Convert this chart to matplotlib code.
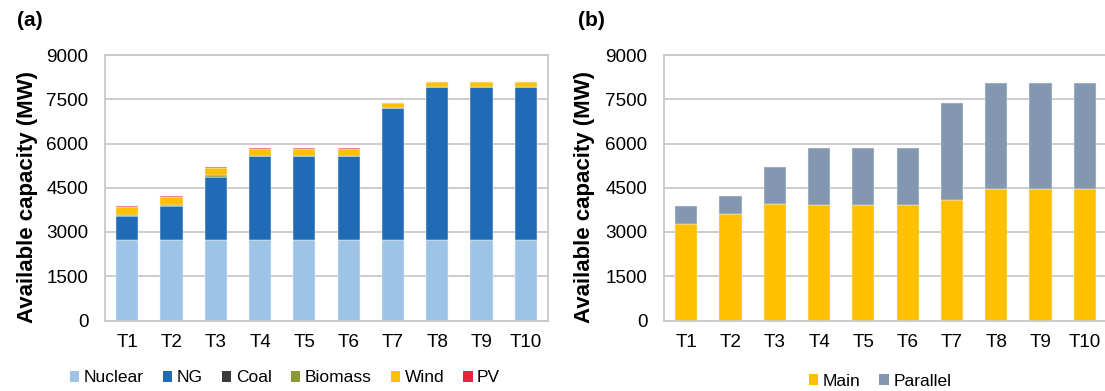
import matplotlib
matplotlib.use("Agg")
import matplotlib.pyplot as plt
from matplotlib.patches import Patch
import numpy as np

plt.rcParams['font.family'] = ['Liberation Sans', 'DejaVu Sans']

categories = ['T1', 'T2', 'T3', 'T4', 'T5', 'T6', 'T7', 'T8', 'T9', 'T10']

# Panel (a): available capacity by source (MW)
nuclear = [2730, 2730, 2730, 2730, 2730, 2730, 2730, 2730, 2730, 2730]
ng      = [800, 1150, 2120, 2830, 2830, 2830, 4480, 5190, 5190, 5190]
coal    = [0, 0, 0, 0, 0, 0, 0, 0, 0, 0]
biomass = [55, 50, 70, 0, 0, 0, 0, 0, 0, 0]
wind    = [250, 250, 250, 255, 255, 255, 160, 160, 160, 160]
pv      = [45, 45, 45, 40, 40, 40, 0, 0, 0, 0]

# Panel (b): main vs parallel (MW)
main_cap     = [3270, 3620, 3957, 3900, 3900, 3900, 4100, 4450, 4450, 4450]
parallel_cap = [606, 607, 1257, 1955, 1955, 1955, 3260, 3605, 3605, 3605]

yticks = [0, 1500, 3000, 4500, 6000, 7500, 9000]

colors_a = {'Nuclear': '#9DC3E6', 'NG': '#1F6BB5', 'Coal': '#3A3A3A',
            'Biomass': '#8A9A36', 'Wind': '#FFC000', 'PV': '#E8233B'}
colors_b = {'Main': '#FFC000', 'Parallel': '#8497B0'}

W, H = 1105, 391
fig = plt.figure(figsize=(W / 100, H / 100), dpi=100)

ax_a = fig.add_axes([105 / W, 1 - 320.5 / H, 443 / W, 265.5 / H])
ax_b = fig.add_axes([664 / W, 1 - 320.5 / H, 443 / W, 265.5 / H])

x = np.arange(len(categories))
bw = 0.5
edge = dict(edgecolor='#E8EEF6', linewidth=0.35)

def style(ax):
    ax.set_xlim(-0.5, len(categories) - 0.5)
    ax.set_ylim(0, 9000)
    ax.set_yticks(yticks)
    ax.set_yticklabels([str(v) for v in yticks])
    ax.set_xticks(x)
    ax.set_xticklabels(categories)
    ax.grid(axis='y', color='#C8C8C8', linewidth=1.3)
    ax.set_axisbelow(True)
    for s in ax.spines.values():
        s.set_color('#C8C8C8')
        s.set_linewidth(1.3)
    ax.tick_params(axis='both', length=0, labelsize=13.6, colors='#000000')
    ax.tick_params(axis='y', pad=12)
    ax.tick_params(axis='x', pad=10)
    ax.set_ylabel('Available capacity (MW)', fontsize=16, fontweight='bold')

bottom = np.zeros(len(categories))
series_a = [('Nuclear', nuclear), ('NG', ng), ('Coal', coal),
            ('Biomass', biomass), ('Wind', wind), ('PV', pv)]
for name, vals in series_a:
    vals = np.array(vals, dtype=float)
    ax_a.bar(x, vals, bw, bottom=bottom, color=colors_a[name], **edge)
    bottom += vals
style(ax_a)

bottom = np.zeros(len(categories))
for name, vals in [('Main', main_cap), ('Parallel', parallel_cap)]:
    vals = np.array(vals, dtype=float)
    ax_b.bar(x, vals, bw, bottom=bottom, color=colors_b[name], **edge)
    bottom += vals
style(ax_b)

label_y = (320.5 - 197) / 265.5
ax_a.yaxis.set_label_coords(-(105 - 38) / 443, label_y)
ax_b.yaxis.set_label_coords(-(664 - 595) / 443, label_y)

fig.text(17 / W, 1 - 20 / H, '(a)', fontsize=15, fontweight='bold', va='center', ha='left')
fig.text(578 / W, 1 - 20 / H, '(b)', fontsize=15, fontweight='bold', va='center', ha='left')

leg_kw = dict(loc='center', frameon=False, fontsize=12.5, handlelength=0.55,
              handleheight=0.55, handletextpad=0.25, columnspacing=1.1, borderpad=0)

handles_a = [Patch(facecolor=colors_a[n], edgecolor='none', label=n) for n, _ in series_a]
fig.legend(handles=handles_a, bbox_to_anchor=(285 / W, 1 - 378 / H), ncol=6, **leg_kw)

handles_b = [Patch(facecolor=colors_b[n], edgecolor='none', label=n) for n in ['Main', 'Parallel']]
fig.legend(handles=handles_b, bbox_to_anchor=(880 / W, 1 - 381 / H), ncol=2, **leg_kw)

fig.savefig('out.png', dpi=100)
